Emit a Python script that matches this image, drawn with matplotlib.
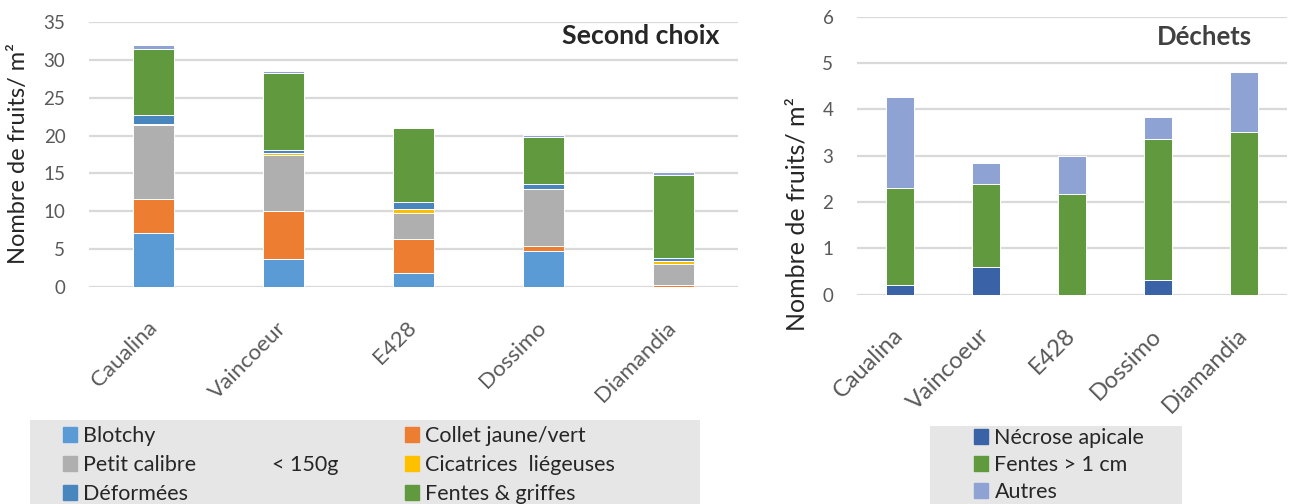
import matplotlib
matplotlib.use("Agg")
import matplotlib.pyplot as plt
from matplotlib.patches import Patch, Rectangle
import numpy as np

plt.rcParams['font.family'] = ['Lato', 'DejaVu Sans']

varieties = ["Caualina", "Vaincoeur", "E428", "Dossimo", "Diamandia"]

# Second choix: fruits per m² by defect class (stacked bottom to top)
blotchy    = [7.1, 3.7, 1.85, 4.8, 0.0]
collet     = [4.5, 6.3, 4.55, 0.6, 0.3]
petit      = [9.8, 7.4, 3.45, 7.5, 2.8]
cicatrices = [0.15, 0.25, 0.5, 0.0, 0.3]
deformees  = [1.15, 0.45, 0.85, 0.7, 0.5]
fentes_gr  = [8.7, 10.2, 9.75, 6.15, 10.95]
autres_sc  = [0.5, 0.15, 0.15, 0.3, 0.35]

# Déchets: fruits per m²
necrose    = [0.21, 0.59, 0.0, 0.32, 0.0]
fentes_1cm = [2.10, 1.81, 2.18, 3.03, 3.52]
autres_d   = [1.96, 0.44, 0.81, 0.48, 1.28]

C_BLOTCHY = "#5B9BD5"
C_COLLET = "#ED7D31"
C_PETIT = "#AFAFAF"
C_CICA = "#FFC000"
C_DEFORM = "#4A86BE"
C_FENTES = "#61993E"
C_AUTRES = "#8EA3D3"
C_NECROSE = "#3A62A7"

GRID = "#D9D9D9"
TICK = "#595959"
TXT = "#262626"
YLABEL = "Nombre de fruits/ m²"

W, H = 1289, 504
fig = plt.figure(figsize=(W / 100, H / 100), dpi=100)


def fx(px):
    return px / W


def fy(py):
    return 1 - py / H


def style_axes(ax, ymax, step, xsize):
    ax.set_ylim(0, ymax)
    ax.set_xlim(-0.5, len(varieties) - 0.5)
    ax.set_yticks(np.arange(0, ymax + 0.01, step))
    ax.yaxis.grid(True, color=GRID, linewidth=1.6)
    ax.set_axisbelow(True)
    for s in ax.spines.values():
        s.set_visible(False)
    ax.tick_params(axis='y', length=0, pad=17, labelsize=13.5, labelcolor=TICK)
    ax.tick_params(axis='x', length=0, pad=27, labelsize=xsize, labelcolor=TICK)
    ax.set_xticks(range(len(varieties)))
    ax.set_xticklabels(varieties, rotation=45, ha='right', va='center',
                       rotation_mode='anchor')


def stack(ax, series, colors, width):
    x = np.arange(len(varieties))
    bottom = np.zeros(len(varieties))
    for vals, col in zip(series, colors):
        vals = np.asarray(vals, dtype=float)
        ax.bar(x, vals, width, bottom=bottom, color=col,
               edgecolor='white', linewidth=0.7, zorder=3)
        bottom += vals


# Left panel: Second choix
ax1 = fig.add_axes([fx(89), fy(287.3), fx(738 - 89), (287.3 - 21.7) / H])
stack(ax1,
      [blotchy, collet, petit, cicatrices, deformees, fentes_gr, autres_sc],
      [C_BLOTCHY, C_COLLET, C_PETIT, C_CICA, C_DEFORM, C_FENTES, C_AUTRES],
      0.315)
style_axes(ax1, 35, 5, 16)
ax1.text(0.972, 0.946, "Second choix", transform=ax1.transAxes,
         ha='right', va='center', fontsize=19.2, fontweight='bold', color=TXT)
fig.text(fx(19), fy(153), YLABEL, rotation=90, ha='center', va='center',
         fontsize=17, color=TXT)

# Right panel: Déchets
ax2 = fig.add_axes([fx(857), fy(294.7), fx(1287 - 857), (294.7 - 16.7) / H])
stack(ax2, [necrose, fentes_1cm, autres_d],
      [C_NECROSE, C_FENTES, C_AUTRES], 0.32)
style_axes(ax2, 6, 1, 17)
ax2.text(0.919, 0.927, "Déchets", transform=ax2.transAxes,
         ha='right', va='center', fontsize=18.5, fontweight='bold', color="#404040")
fig.text(fx(797), fy(214), YLABEL, rotation=90, ha='center', va='center',
         fontsize=18, color=TXT)

# Legend backgrounds
fig.patches.append(Rectangle((fx(30), fy(504)), fx(700 - 30), 84 / H,
                             transform=fig.transFigure, facecolor="#E7E6E6",
                             edgecolor='none', zorder=0))
fig.patches.append(Rectangle((fx(930), fy(504)), fx(1182 - 930), 78 / H,
                             transform=fig.transFigure, facecolor="#E7E6E6",
                             edgecolor='none', zorder=0))

leg_kw = dict(frameon=False, loc='center left', borderpad=0, borderaxespad=0,
              handlelength=0.65, handleheight=0.65, handletextpad=0.3,
              labelspacing=0.42, fontsize=15.5, labelcolor=TXT)

fig.legend(handles=[Patch(color=C_BLOTCHY, label="Blotchy"),
                    Patch(color=C_PETIT, label="Petit calibre"),
                    Patch(color=C_DEFORM, label="Déformées")],
           bbox_to_anchor=(fx(63), fy(465)), **leg_kw)
fig.legend(handles=[Patch(color=C_COLLET, label="Collet jaune/vert"),
                    Patch(color=C_CICA, label="Cicatrices  liégeuses"),
                    Patch(color=C_FENTES, label="Fentes & griffes")],
           bbox_to_anchor=(fx(405), fy(465)), **leg_kw)
fig.text(fx(272), fy(465), "< 150g", ha='left', va='center',
         fontsize=15.5, color=TXT)

right_kw = dict(leg_kw, labelspacing=0.33)
fig.legend(handles=[Patch(color=C_NECROSE, label="Nécrose apicale"),
                    Patch(color=C_FENTES, label="Fentes > 1 cm"),
                    Patch(color=C_AUTRES, label="Autres")],
           bbox_to_anchor=(fx(974), fy(465)), **right_kw)

fig.savefig("out.png", dpi=100)
